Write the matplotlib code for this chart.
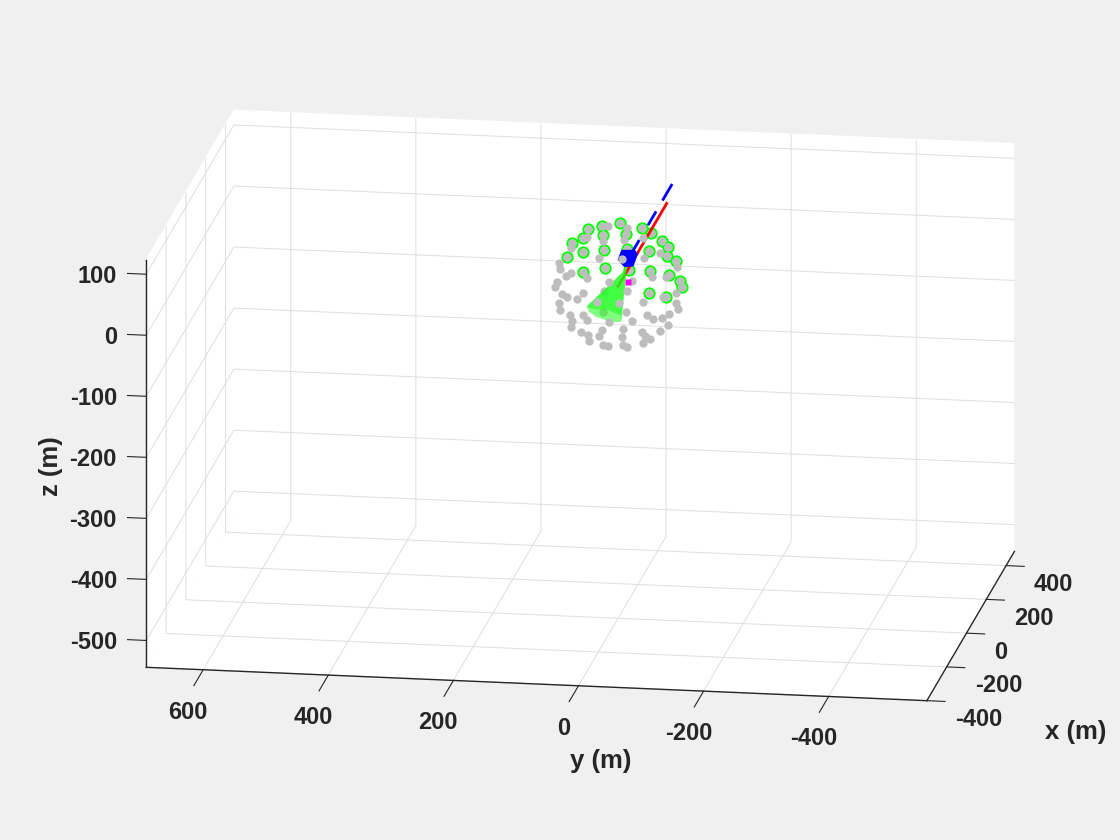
import numpy as np
import matplotlib
matplotlib.use("Agg")
import matplotlib.pyplot as plt
from mpl_toolkits.mplot3d import Axes3D, proj3d
from mpl_toolkits.mplot3d.art3d import Poly3DCollection

plt.rcParams['font.family'] = ['Liberation Sans', 'DejaVu Sans']
plt.rcParams['axes.unicode_minus'] = False

# axis data
x_lim = (-400, 484)
y_lim = (-557, 691)
z_lim = (-544, 124)
x_ticks = [-400, -200, 0, 200, 400]
y_ticks = [-400, -200, 0, 200, 400, 600]
z_ticks = [-500, -400, -300, -200, -100, 0, 100]

# depth of the sensor sphere's visible plane
sensor_x = -6.0

# sensors with a green ring (y, z in metres)
ring_y = [81.0, 72.9, 55.3, 47.3, 25.3, 23.2, 21.6, 55.3, 55.3, 20.0, -3.5, -13.1, -39.9, -53.2,
          -15.9, -51.1, -70.9, -80.0, -78.4, -93.8, -52.1, -81.6, -99.2, -103.4, -18.0, -51.1, -77.7]
ring_z = [46.3, 70.0, 78.5, 92.8, 99.4, 85.3, 60.8, 54.5, 23.0, 29.9, 105.6, 88.5, 99.0, 91.4,
          64.1, 61.9, 79.6, 69.7, 54.3, 47.5, 29.4, 24.2, 15.2, 5.5, 28.9, -6.6, -11.9]

# grey sensors drawn over the cone
grey_y = [73.9, 48.3, 14.6, 23.2, 29.7, 93.8, 92.2, 75.0, 81.9, 96.3, 100.2, 48.9, 13.0, -14.7,
          -10.4, -41.5, -42.5, -68.1, -94.9, -54.8, -77.3, -7.9, -23.9, -15.9, -40.9, -72.0, -93.8,
          -93.3, -96.0, -13.6, -23.9, -47.9, -56.9, -71.3, -82.6, -80.0, -68.1, -9.5, -39.9, -43.6,
          -52.1, -40.9, -7.9, -8.8, -14.7, 88.3, 81.4, 64.3, 55.3, 93.8, 92.2, 76.1, 73.4, 75.0,
          55.3, 48.9, 33.3, 13.6, -2.4, 57.9, 47.3, 45.7, 29.7, 25.3, 23.2, 15.2]
grey_z = [61.3, 80.4, 99.2, 75.0, 45.8, 36.0, 25.6, 20.5, 14.7, 4.9, -3.4, 12.3, 8.5, 98.3,
          77.5, 82.7, 50.2, 59.4, 36.7, 19.7, 20.7, 45.8, 11.2, -4.8, -21.7, -13.3, -4.7,
          -21.0, -31.4, -39.2, -55.0, -42.6, -49.9, -47.6, -40.6, -59.1, -69.4, -68.3, -72.2, -77.7,
          -82.2, -89.7, -81.4, -93.9, -97.4, -15.0, -20.1, -21.4, -12.3, -30.4, -41.3, -48.6, -59.3, -69.2,
          -48.7, -55.7, -25.0, -57.8, -25.0, -76.5, -80.6, -90.7, -81.9, -71.9, -96.2, -97.6]

# grey sensors seen through the cone
under_y = [21.0, 23.2]
under_z = [-7.1, -42.4]

# lines running along x
red_x = [0, 490]
red_y = [0, 0]
red_z = [0, 0]
blue_x = [96, 152, np.nan, 254, 322, np.nan, 400, 484]
blue_y = [-8.7] * 8
blue_z = [32] * 8

# blue body outline
body_y = [-6.3, -26.4, -30.3, -23.9, -10.4, -0.8]
body_z = [61.0, 61.9, 56.6, 37.3, 35.7, 46.0]

# magenta marker
target_y = [-16.7]
target_z = [9.7]

# cone outline
cone_apex = (-14.7, 31.4)
cone_low_y = [49.4, 45.4, 34.9, 18.9, 4.5, -6.3]
cone_low_z = [-33.8, -42.1, -49.5, -54.8, -57.4, -56.1]
cone_top_y = [49.4, 34.9, 16.2, -3.5, -6.3]
cone_top_z = [-33.8, -37.5, -37.9, -45.1, -48.8]

BG = '#f0f0f0'
INK = '#262626'
GRID = '#dedede'

fig = plt.figure(figsize=(11.2, 8.4), dpi=100, facecolor=BG)
ax = fig.add_axes([0.1, 0.1, 0.6, 0.8], projection='3d', computed_zorder=False, facecolor=(1, 1, 1, 0))
ax.set_proj_type('ortho')
ax.view_init(elev=15.66, azim=189.0)
ax.set_xlim(*x_lim)
ax.set_ylim(*y_lim)
ax.set_zlim(*z_lim)
ax.set_box_aspect((884, 1248, 668 * 1.001))
ax.set_xticks(x_ticks)
ax.set_yticks(y_ticks)
ax.set_zticks(z_ticks)

for axis, out in ((ax.xaxis, -0.29), (ax.yaxis, -1.33), (ax.zaxis, 0.3)):
    axis.set_pane_color((1, 1, 1, 1))
    axis.pane.set_edgecolor((1, 1, 1, 1))
    axis.line.set_color(INK)
    axis.line.set_linewidth(1.0)
    axis._axinfo['grid'].update(color=GRID, linewidth=0.7)
    axis._axinfo['tick'].update(inward_factor=0.0, outward_factor=out, linewidth={True: 0.8, False: 0.8})
    axis.set_tick_params(colors=INK, labelsize=17, color=INK)

ax.set_xlabel('x (m)', fontsize=18.5, fontweight='bold', color=INK, rotation=0)
ax.set_ylabel('y (m)', fontsize=18.5, fontweight='bold', color=INK, rotation=0)
ax.set_zlabel('z (m)', fontsize=18.5, fontweight='bold', color=INK, rotation=90)
ax.xaxis.set_rotate_label(False)
ax.yaxis.set_rotate_label(False)
ax.zaxis.set_rotate_label(False)
ax.zaxis.set_ticks_position('upper')
ax.zaxis.set_label_position('upper')
# z ticks point along y, as in the reference
ax.zaxis._get_tickdir = lambda pos: 1


def plane(ys):
    return np.full(len(ys), sensor_x)


def poly(ys, zs, color, zorder, edge='none', lw=0):
    verts = [list(zip(plane(ys), ys, zs))]
    c = Poly3DCollection(verts, facecolors=[color], edgecolors=edge, linewidths=lw, zorder=zorder)
    ax.add_collection3d(c)


GREY = '#bdbdbd'
DOT = 6.0
ax.plot(plane(ring_y), ring_y, ring_z, 'o', ms=7.3, mfc='white', mec='#00ff00', mew=1.5, zorder=3)
ax.plot(plane(ring_y), ring_y, ring_z, 'o', ms=DOT, mfc=GREY, mec='none', zorder=3.1)
ax.plot(plane(under_y), under_y, under_z, 'o', ms=DOT, mfc=GREY, mec='none', zorder=3.2)
ax.plot(red_x, red_y, red_z, color='#ff0000', lw=2.0, zorder=4)
ax.plot(blue_x, blue_y, blue_z, color='#0000ff', lw=2.0, zorder=4)
poly(body_y, body_z, '#0000ff', 5, edge='#0000ff', lw=1.2)
poly([cone_apex[0]] + cone_low_y, [cone_apex[1]] + cone_low_z, (0.1, 1, 0.1, 0.55), 6)
poly([cone_apex[0]] + cone_top_y, [cone_apex[1]] + cone_top_z, (0.1, 1, 0.1, 0.6), 7)
ax.plot(plane(grey_y), grey_y, grey_z, 'o', ms=DOT, mfc=GREY, mec='none', zorder=8)
ax.plot(plane(target_y), target_y, target_z, 's', ms=4.4, color='#ff00ff', mec='none', zorder=9)

# place the box on the canvas so its corners land where the reference has them
P0 = (x_lim[0], y_lim[1], z_lim[0], 146.7, 840 - 668.0)
P1 = (x_lim[1], y_lim[0], z_lim[1], 1014.0, 840 - 143.0)
fw, fh = fig.get_size_inches() * fig.dpi


def disp(p):
    xp, yp, _ = proj3d.proj_transform(p[0], p[1], p[2], ax.get_proj())
    return ax.transData.transform((xp, yp))


side = 700.0
cx, cy = 580.0, 420.0
for _ in range(4):
    ax.set_position([(cx - side / 2) / fw, (cy - side / 2) / fh, side / fw, side / fh])
    fig.canvas.draw()
    a, b = disp(P0), disp(P1)
    ta, tb = np.array(P0[3:]), np.array(P1[3:])
    scale = np.linalg.norm(tb - ta) / np.linalg.norm(b - a)
    side *= scale
    mid_now = (a + b) / 2
    mid_want = (ta + tb) / 2
    cx += mid_want[0] - (cx + (mid_now[0] - cx) * scale)
    cy += mid_want[1] - (cy + (mid_now[1] - cy) * scale)
ax.set_position([(cx - side / 2) / fw, (cy - side / 2) / fh, side / fw, side / fh])
fig.canvas.draw()


def pin(text, px, py):
    """Hold a label at canvas pixel (px, py from the top), whatever the 3D axis asks for."""
    target = ax.transData.inverted().transform((px, 840 - py))
    orig = text.set_position
    text.set_position = lambda xy: orig(target)
    orig(target)


def pin_ticks(axis, ticks, point, dx, dy, ha):
    for tick, val in zip(axis.get_major_ticks(), ticks):
        lab = tick.label1
        lab.set_fontweight('bold')
        lab.set_ha(ha)
        lab.set_va('center')
        d = disp(point(val))
        pin(lab, d[0] + dx, 840 - d[1] + dy)


pin_ticks(ax.xaxis, x_ticks, lambda v: (v, y_lim[0], z_lim[0]), 28.0, 19, 'left')
pin_ticks(ax.yaxis, y_ticks, lambda v: (x_lim[0], v, z_lim[0]), -15.2, 42.3, 'center')
pin_ticks(ax.zaxis, z_ticks, lambda v: (x_lim[0], y_lim[1], v), -29.4, 2, 'right')
pin(ax.xaxis.label, 1076, 732)
pin(ax.yaxis.label, 601, 761)
pin(ax.zaxis.label, 51, 466)

fig.savefig('out.png', dpi=100, facecolor=BG)
